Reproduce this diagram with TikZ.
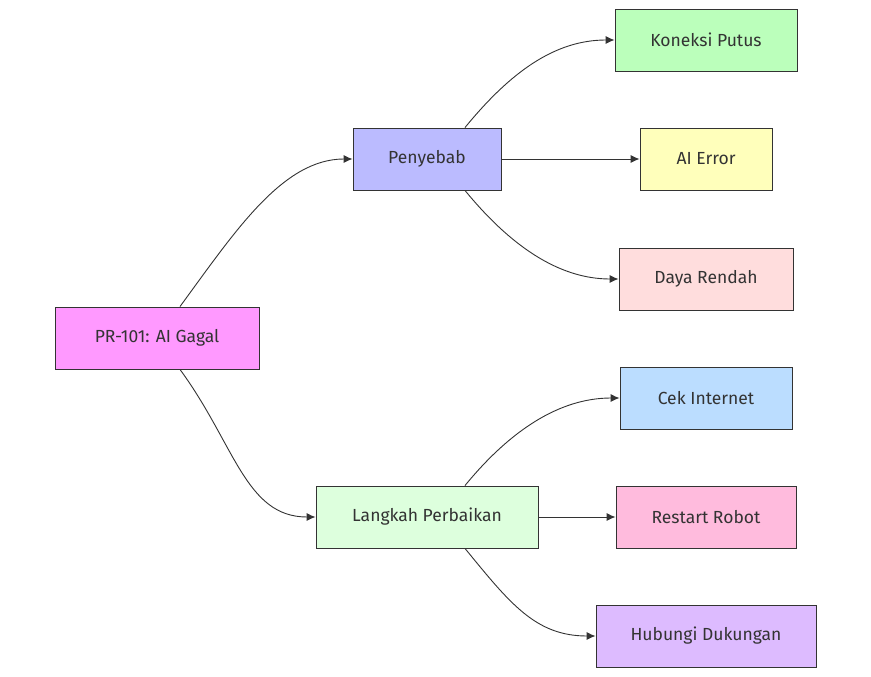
\documentclass[tikz,border=0pt]{standalone}
\usepackage{fontspec}
\setmainfont{Fira Sans}
\usetikzlibrary{arrows.meta}
\definecolor{lineclr}{HTML}{333333}
\definecolor{textclr}{HTML}{333333}
\definecolor{prclr}{HTML}{FF99FF}
\definecolor{sebabclr}{HTML}{BBBBFF}
\definecolor{langkahclr}{HTML}{DDFFDD}
\definecolor{koneksiclr}{HTML}{BBFFBB}
\definecolor{errorclr}{HTML}{FFFFBB}
\definecolor{dayaclr}{HTML}{FFDDDD}
\definecolor{cekclr}{HTML}{BBDDFF}
\definecolor{restartclr}{HTML}{FFBBDD}
\definecolor{hubungiclr}{HTML}{DDBBFF}
\begin{document}
\begin{tikzpicture}[x=1pt,y=-1pt,font=\fontsize{17.5}{21}\selectfont,
  box/.style={draw=lineclr,line width=0.9pt,text=textclr,minimum height=62pt,inner sep=0pt},
  link/.style={draw=lineclr,line width=0.9pt,-{Latex[length=9pt,width=8pt]}}]
\useasboundingbox (0,0) rectangle (871,677);
\node[box,fill=prclr,minimum width=204pt] (pr) at (157,338) {PR-101: AI Gagal};
\node[box,fill=sebabclr,minimum width=148pt] (sebab) at (427,159) {Penyebab};
\node[box,fill=langkahclr,minimum width=222pt] (langkah) at (427,517) {Langkah Perbaikan};
\node[box,fill=koneksiclr,minimum width=182pt] (koneksi) at (706,40) {Koneksi Putus};
\node[box,fill=errorclr,minimum width=132pt] (error) at (706,159) {AI Error};
\node[box,fill=dayaclr,minimum width=174pt] (daya) at (706,279) {Daya Rendah};
\node[box,fill=cekclr,minimum width=172pt] (cek) at (706,398) {Cek Internet};
\node[box,fill=restartclr,minimum width=180pt] (restart) at (706,517) {Restart Robot};
\node[box,fill=hubungiclr,minimum width=220pt] (hubungi) at (706,636) {Hubungi Dukungan};
\draw[link] ([xshift=23pt]pr.north) .. controls +(55,-75) and +(-70,0) .. (sebab.west);
\draw[link] ([xshift=23pt]pr.south) .. controls +(55,75) and +(-70,0) .. (langkah.west);
\draw[link] ([xshift=38pt]sebab.north) .. controls +(45,-55) and +(-60,0) .. (koneksi.west);
\draw[link] (sebab.east) -- (error.west);
\draw[link] ([xshift=38pt]sebab.south) .. controls +(45,55) and +(-60,0) .. (daya.west);
\draw[link] ([xshift=38pt]langkah.north) .. controls +(45,-55) and +(-60,0) .. (cek.west);
\draw[link] (langkah.east) -- (restart.west);
\draw[link] ([xshift=38pt]langkah.south) .. controls +(45,55) and +(-60,0) .. (hubungi.west);
\end{tikzpicture}
\end{document}
